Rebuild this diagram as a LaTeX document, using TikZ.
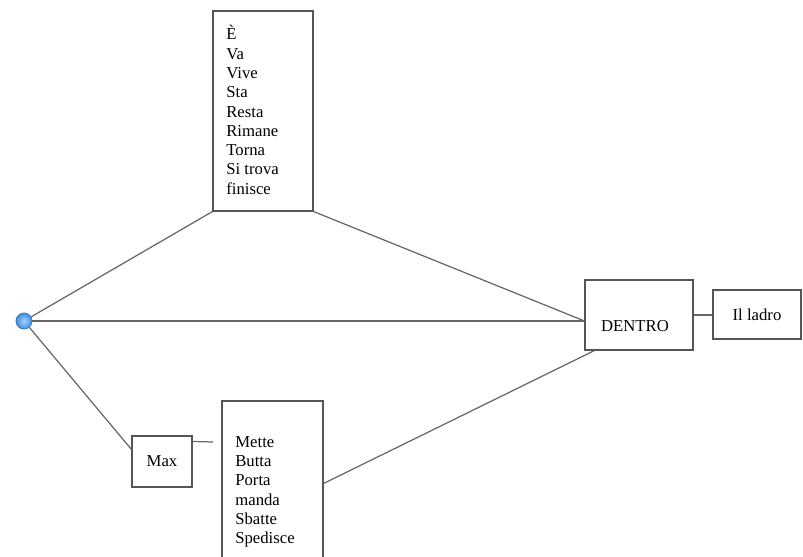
\documentclass[tikz,border=0pt]{standalone}
\usepackage{fontspec}
\setmainfont{Liberation Serif}
\usepackage{tikz}
\usepackage{xcolor}
\usetikzlibrary{positioning, calc}
\definecolor{BoxGrey}{HTML}{555555}
\definecolor{LinkGrey}{HTML}{666666}
\definecolor{RootBlue}{HTML}{3F8FE0}
\definecolor{RootLight}{HTML}{A8D0FA}
\tikzset{
    % Plain text everywhere
    every node/.style={font=\fontsize{9.5}{11}\selectfont},
    % Word box style
    wordbox/.style={
        rectangle,
        draw=BoxGrey,
        fill=white,
        line width=0.6pt,
        align=center
    },
    % List of verbs inside a box
    verblist/.style={
        anchor=north west,
        align=left,
        inner sep=0pt
    },
    % Root point
    rootdot/.style={
        circle,
        draw=RootBlue!80!black,
        line width=0.4pt,
        inner color=RootLight,
        outer color=RootBlue,
        minimum size=0.32cm,
        inner sep=0pt
    },
    % Connector style
    link/.style={
        draw=LinkGrey,
        line width=0.7pt
    }
}

\begin{document}
\begin{tikzpicture}
        \useasboundingbox (0,0) rectangle (16.06,-11.12);
        % Boxes
        \node (verbs) [wordbox, minimum width=2cm, minimum height=4cm] at (5.26,-2.22) {};
        \node (dentro) [wordbox, minimum width=2.16cm, minimum height=1.4cm] at (12.78,-6.30) {};
        \node (ladro) [wordbox, minimum width=1.76cm, minimum height=0.98cm] at (15.14,-6.29) {Il ladro};
        \node (max) [wordbox, minimum width=1.2cm, minimum height=1.02cm] at (3.24,-9.23) {Max};
        \node (moves) [wordbox, minimum width=2.02cm, minimum height=3.3cm] at (5.45,-9.67) {};

        % Texts inside the boxes
        \node (verbstext) [verblist] at (4.52,-0.50) {È\\Va\\Vive\\Sta\\Resta\\Rimane\\Torna\\Si trova\\finisce};
        \node (movestext) [verblist] at (4.70,-8.72) {Mette\\Butta\\Porta\\manda\\Sbatte\\Spedisce};
        \node (dentrotext) at (12.70,-6.52) {DENTRO};

        % Root point and free ends
        \node (root) [rootdot] at (0.48,-6.42) {};
        \coordinate (hub) at ($(dentro.west)+(0,-0.12)$);
        \coordinate (maxin) at ($(max.north west)+(0,-0.28)$);
        \coordinate (maxout) at ($(max.north east)+(0,-0.12)$);
        \coordinate (gap) at (4.26,-8.84);
        \coordinate (dentrolow) at ($(dentro.south west)+(0.2,0)$);

        % Connectors
        \draw [link] (root) -- (verbs.south west);
        \draw [link] (verbs.south east) -- (hub);
        \draw [link] (root) -- (hub);
        \draw [link] (root) -- (maxin);
        \draw [link] (maxout) -- (gap);
        \draw [link] (moves.east) -- (dentrolow);
        \draw [link] (dentro.east) -- (dentro.east -| ladro.west);
    \end{tikzpicture}
\end{document}
